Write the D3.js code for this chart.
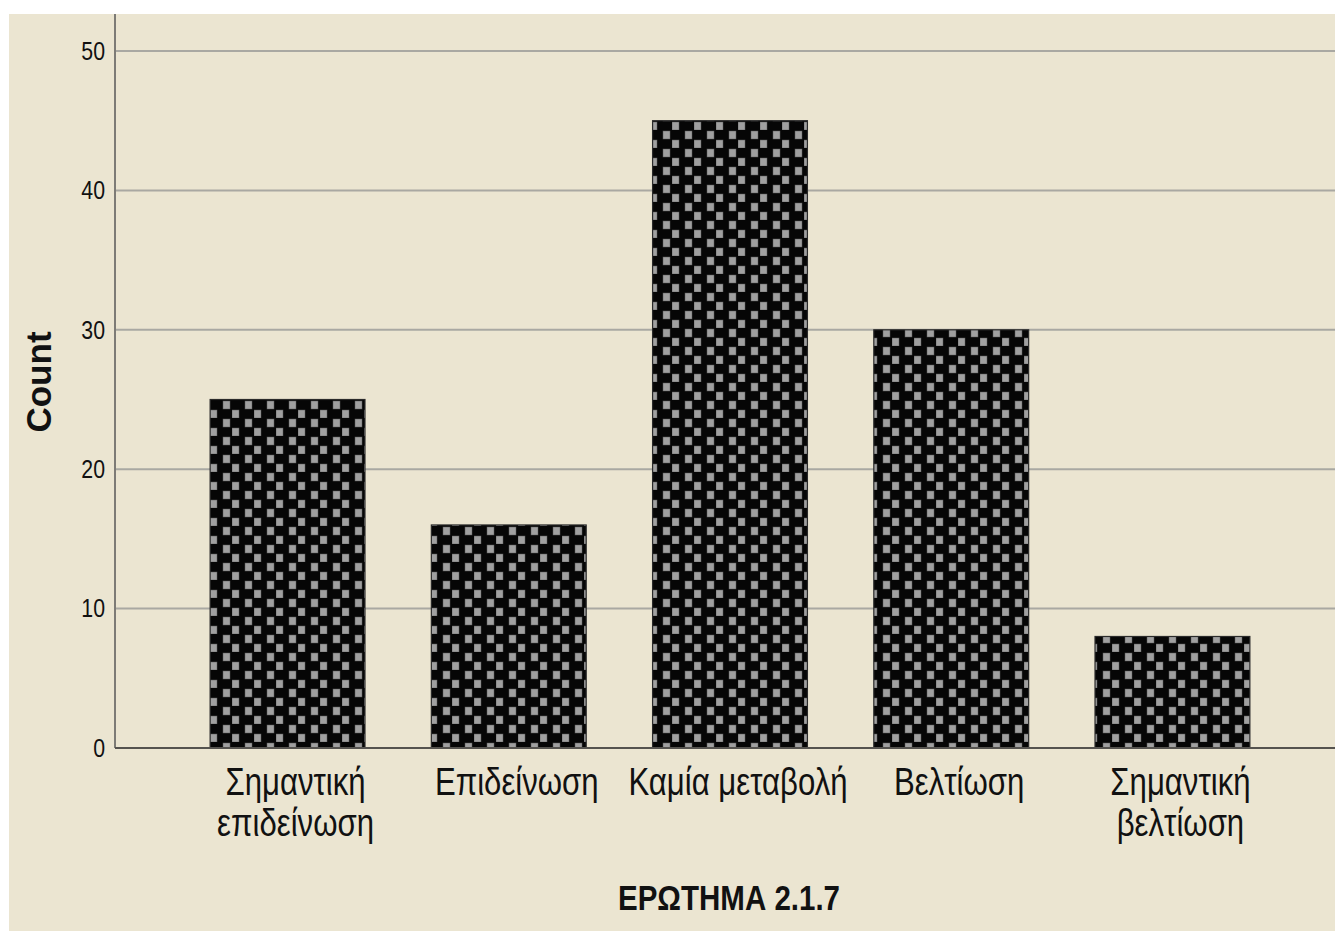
<!DOCTYPE html>
<html>
<head>
<meta charset="utf-8">
<script src="https://cdn.jsdelivr.net/npm/d3@7/dist/d3.min.js"></script>
<style>
  html, body { margin: 0; padding: 0; background: #ffffff; }
  svg { display: block; }
  text { font-family: "Liberation Sans", Arial, sans-serif; }
</style>
</head>
<body>
<svg id="chart" width="1335" height="931"></svg>
<script>
// Response categories (line breaks mark wrapped labels)
const categories = [
  "Σημαντική\nεπιδείνωση",
  "Επιδείνωση",
  "Καμία μεταβολή",
  "Βελτίωση",
  "Σημαντική\nβελτίωση"
];
// Count of respondents per category
const counts = [25, 16, 45, 30, 8];
// Y axis tick values
const yTicks = [0, 10, 20, 30, 40, 50];

const xTitle = "ΕΡΩΤΗΜΑ 2.1.7";
const yTitle = "Count";

const W = 1335, H = 931;
const plot = { left: 115, top: 14, right: 1345, bottom: 748 };
const NARROW = 0.82; // horizontal squeeze giving a narrow face

const svg = d3.select("#chart");

// Chart background panel
svg.append("rect")
  .attr("x", 9).attr("y", 14)
  .attr("width", W - 9).attr("height", H - 14)
  .attr("fill", "#ebe5d1");

// Checkered fill used for bars
const defs = svg.append("defs");
const pat = defs.append("pattern")
  .attr("id", "checks")
  .attr("patternUnits", "userSpaceOnUse")
  .attr("x", 210).attr("y", 400)
  .attr("width", 22).attr("height", 18);
pat.append("rect").attr("width", 22).attr("height", 18).attr("fill", "#060606");
pat.append("rect").attr("x", 13).attr("y", 1).attr("width", 7).attr("height", 8)
  .attr("fill", "#a0a0a0").attr("stroke", "#5a5a5a").attr("stroke-width", 0.5);
pat.append("rect").attr("x", 0).attr("y", 10).attr("width", 7).attr("height", 8)
  .attr("fill", "#a0a0a0").attr("stroke", "#5a5a5a").attr("stroke-width", 0.5);

const x = d3.scaleBand()
  .domain(categories)
  .range([plot.left, plot.right])
  .paddingInner(0.3)
  .paddingOuter(0.43);

const y = d3.scaleLinear()
  .domain([0, 50])
  .range([plot.bottom, 51]);

// Horizontal gridlines
svg.append("g")
  .selectAll("line")
  .data(yTicks.filter(d => d > 0))
  .join("line")
  .attr("x1", plot.left).attr("x2", W)
  .attr("y1", d => y(d)).attr("y2", d => y(d))
  .attr("stroke", "#a9a8a2")
  .attr("stroke-width", 2);

// Bars
svg.append("g")
  .selectAll("rect")
  .data(counts)
  .join("rect")
  .attr("x", (d, i) => x(categories[i]))
  .attr("y", d => y(d))
  .attr("width", x.bandwidth())
  .attr("height", d => y(0) - y(d))
  .attr("fill", "url(#checks)")
  .attr("stroke", "#2a2a2a")
  .attr("stroke-width", 1.2);

// Y axis
const yAxis = svg.append("g")
  .attr("transform", `translate(${plot.left},0)`)
  .call(d3.axisLeft(y).tickValues(yTicks).tickSize(0).tickPadding(10).tickFormat(d3.format("d")));
yAxis.select(".domain").remove();
yAxis.attr("font-family", null);
yAxis.selectAll("text")
  .attr("font-size", 26)
  .attr("fill", "#111")
  .attr("x", -10 / NARROW)
  .attr("transform", `scale(${NARROW},1)`);
svg.append("line")
  .attr("x1", plot.left).attr("x2", plot.left)
  .attr("y1", plot.top).attr("y2", plot.bottom)
  .attr("stroke", "#7d7b76").attr("stroke-width", 2);

// X axis
const xAxis = svg.append("g")
  .attr("transform", `translate(0,${plot.bottom})`)
  .call(d3.axisBottom(x).tickSize(0).tickPadding(0));
xAxis.select(".domain").remove();
xAxis.attr("font-family", null);
xAxis.selectAll(".tick text").each(function(d) {
  const t = d3.select(this);
  t.text(null)
    .attr("font-size", 38)
    .attr("fill", "#111")
    .attr("dy", null)
    .attr("y", 0)
    .attr("transform", `scale(${NARROW},1)`);
  d.split("\n").forEach((line, k) => {
    t.append("tspan")
      .attr("x", 8 / NARROW)
      .attr("y", 47 + k * 41)
      .text(line);
  });
});
svg.append("line")
  .attr("x1", plot.left).attr("x2", W)
  .attr("y1", plot.bottom).attr("y2", plot.bottom)
  .attr("stroke", "#55534f").attr("stroke-width", 2);

// Axis titles
svg.append("text")
  .attr("transform", `translate(729,910) scale(${NARROW},1)`)
  .attr("text-anchor", "middle")
  .attr("font-size", 36)
  .attr("font-weight", "bold")
  .attr("fill", "#111")
  .text(xTitle);

svg.append("text")
  .attr("transform", "translate(51,382) rotate(-90)")
  .attr("text-anchor", "middle")
  .attr("font-size", 35)
  .attr("font-weight", "bold")
  .attr("fill", "#111")
  .text(yTitle);
</script>
</body>
</html>
